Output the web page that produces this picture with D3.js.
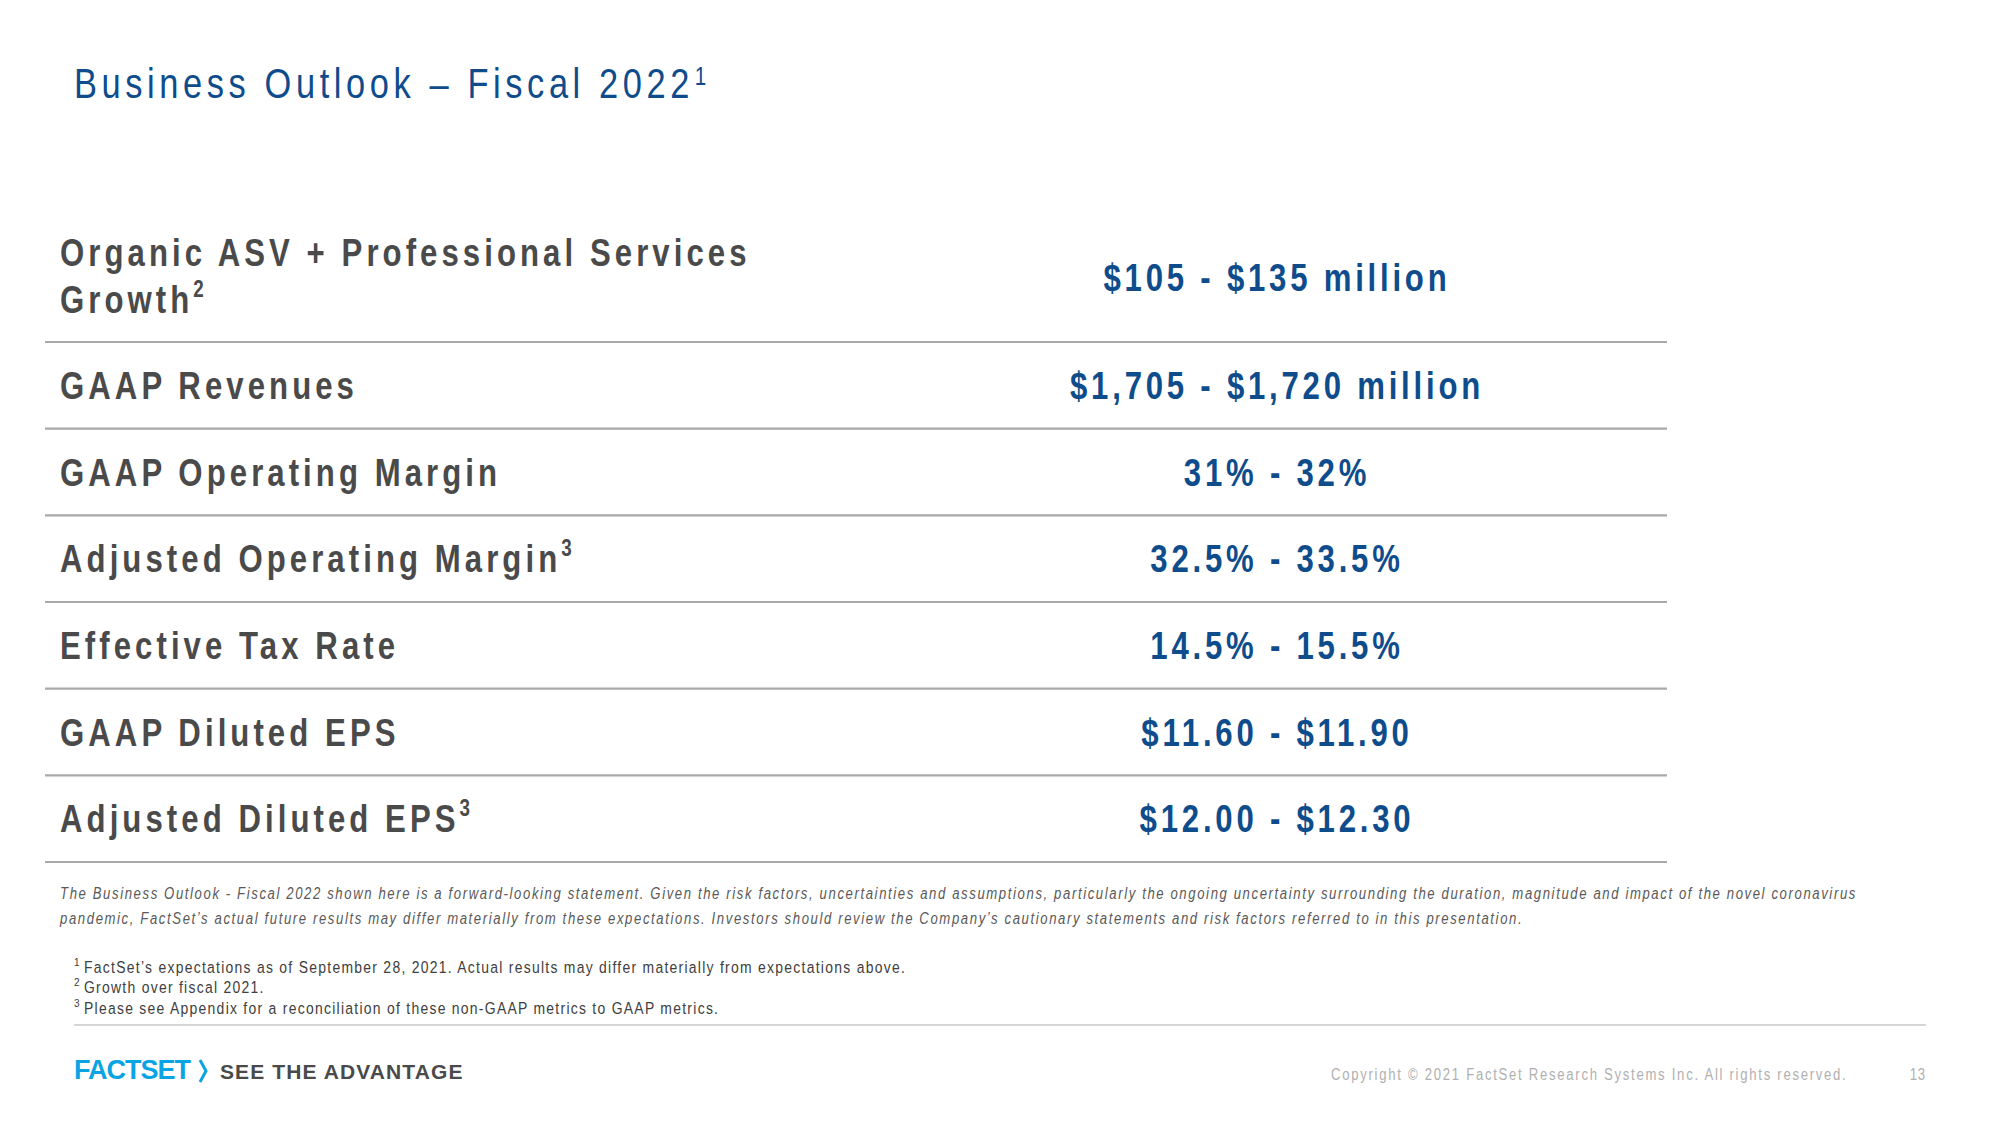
<!DOCTYPE html>
<html>
<head>
<meta charset="utf-8">
<script src="https://cdn.jsdelivr.net/npm/d3@7"></script>
<style>
html,body{margin:0;padding:0;background:#fff;}
svg{display:block;}
</style>
</head>
<body>
<script>
// ---- Data ----
const titleText = "Business Outlook \u2013 Fiscal 2022";
const titleSup = "1";
const metricLabels = [
  ["Organic ASV + Professional Services", "Growth"],
  ["GAAP Revenues"],
  ["GAAP Operating Margin"],
  ["Adjusted Operating Margin"],
  ["Effective Tax Rate"],
  ["GAAP Diluted EPS"],
  ["Adjusted Diluted EPS"]
];
const metricSups = ["2", "", "", "3", "", "", "3"];
const outlookValues = [
  "$105 - $135 million",
  "$1,705 - $1,720 million",
  "31% - 32%",
  "32.5% - 33.5%",
  "14.5% - 15.5%",
  "$11.60 - $11.90",
  "$12.00 - $12.30"
];
const disclaimerLines = [
  "The Business Outlook - Fiscal 2022 shown here is a forward-looking statement. Given the risk factors, uncertainties and assumptions, particularly the ongoing uncertainty surrounding the duration, magnitude and impact of the novel coronavirus",
  "pandemic, FactSet\u2019s actual future results may differ materially from these expectations. Investors should review the Company\u2019s cautionary statements and risk factors referred to in this presentation."
];
const footnoteMarks = ["1", "2", "3"];
const footnoteTexts = [
  "FactSet\u2019s expectations as of September 28, 2021. Actual results may differ materially from expectations above.",
  "Growth over fiscal 2021.",
  "Please see Appendix for a reconciliation of these non-GAAP metrics to GAAP metrics."
];
const brandName = "FACTSET";
const tagline = "SEE THE ADVANTAGE";
const copyrightText = "Copyright \u00A9 2021 FactSet Research Systems Inc. All rights reserved.";
const pageNumber = "13";

// ---- Layout ----
const W = 2000, H = 1125;
const SANS = "'Liberation Sans',Arial,sans-serif";
const BLUE = "#0f4c8c", GRAY = "#4a4a4a", RULE = "#a9a9a9";
const NX = 0.82; // horizontal condensing to emulate a narrow face
const narrow = x => `translate(${x},0) scale(${NX},1)`;

const svg = d3.select("body").append("svg").attr("width", W).attr("height", H);
svg.append("rect").attr("width", W).attr("height", H).attr("fill", "#fff");

// Title
const title = svg.append("text")
  .attr("transform", narrow(74)).attr("x", 0).attr("y", 98)
  .attr("font-family", SANS).attr("font-size", 42)
  .attr("letter-spacing", 5.6).attr("fill", BLUE);
title.append("tspan").text(titleText);
title.append("tspan").attr("dy", -13).attr("font-size", 25).attr("dx", 1).text(titleSup);

// Table scales: row-separator lines
const idx = d3.range(metricLabels.length);
const yLine = d3.scaleLinear().domain([0, metricLabels.length - 1]).range([342, 862]);
const step = yLine(1) - yLine(0);
const rowCenter = i => i === 0 ? yLine(0) - step * 0.75 : yLine(i) - step / 2;
const xCol = d3.scalePoint().domain(["label", "value"]).range([60, 1277]);
const xRule = d3.scaleLinear().domain([0, 1]).range([45, 1667]);

svg.append("g").selectAll("line").data(idx).join("line")
  .attr("x1", xRule(0)).attr("x2", xRule(1))
  .attr("y1", d => yLine(d)).attr("y2", d => yLine(d))
  .attr("stroke", RULE).attr("stroke-width", 2.2);

const FS = 38;
const capOff = FS * 0.358;
// Labels
const labels = svg.append("g").selectAll("text").data(idx).join("text")
  .attr("transform", narrow(xCol("label")))
  .attr("font-family", SANS).attr("font-weight", "bold")
  .attr("font-size", FS).attr("letter-spacing", 4.95).attr("fill", GRAY);
labels.each(function(i) {
  const t = d3.select(this);
  const lines = metricLabels[i];
  const lh = 47;
  const y0 = rowCenter(i) + capOff - (lines.length - 1) * lh / 2 - (lines.length > 1 ? 1 : 0);
  lines.forEach((ln, k) => {
    t.append("tspan").attr("x", 0).attr("y", y0 + k * lh).text(ln);
  });
  if (metricSups[i]) {
    t.append("tspan").attr("dy", -16).attr("dx", 0).attr("font-size", 23).attr("letter-spacing", 2).text(metricSups[i]);
  }
});

// Values
svg.append("g").selectAll("text").data(idx).join("text")
  .attr("transform", narrow(xCol("value")))
  .attr("x", 0)
  .attr("y", i => rowCenter(i) + capOff)
  .attr("text-anchor", "middle")
  .attr("font-family", SANS).attr("font-weight", "bold")
  .attr("font-size", FS).attr("letter-spacing", 4.6).attr("fill", BLUE)
  .text(i => outlookValues[i]);

// Disclaimer
svg.append("g").selectAll("text").data(disclaimerLines).join("text")
  .attr("transform", narrow(60))
  .attr("x", 0).attr("y", (d, i) => 899 + i * 25)
  .attr("font-family", SANS).attr("font-style", "italic")
  .attr("font-size", 16).attr("letter-spacing", 1.97).attr("fill", "#595959")
  .text(d => d);

// Footnotes
const fnG = svg.append("g");
fnG.selectAll("text.mark").data(footnoteMarks).join("text").attr("class", "mark")
  .attr("x", 74).attr("y", (d, i) => 966 + i * 20.4)
  .attr("font-family", SANS).attr("font-size", 10).attr("fill", "#404040")
  .text(d => d);
fnG.selectAll("text.fn").data(footnoteTexts).join("text").attr("class", "fn")
  .attr("transform", narrow(84))
  .attr("x", 0).attr("y", (d, i) => 973 + i * 20.4)
  .attr("font-family", SANS).attr("font-size", 17)
  .attr("letter-spacing", 1.55).attr("fill", "#404040")
  .text(d => d);

// Footer rule
svg.append("line").attr("x1", 74).attr("x2", 1926).attr("y1", 1025).attr("y2", 1025)
  .attr("stroke", "#c8c8c8").attr("stroke-width", 1.5);

// Brand
svg.append("text").attr("x", 74).attr("y", 1079)
  .attr("font-family", SANS).attr("font-weight", "bold").attr("font-size", 27)
  .attr("letter-spacing", -1).attr("fill", "#0aa4e4").text(brandName);
svg.append("path").attr("d", d3.line()([[200, 1060], [206, 1071], [200, 1082]]))
  .attr("fill", "none").attr("stroke", "#0aa4e4").attr("stroke-width", 3);
svg.append("text").attr("x", 220).attr("y", 1079)
  .attr("font-family", SANS).attr("font-weight", "bold").attr("font-size", 21)
  .attr("letter-spacing", 1.1).attr("fill", GRAY).text(tagline);

// Copyright and page number
svg.append("text").attr("transform", narrow(1331)).attr("x", 0).attr("y", 1080)
  .attr("font-family", SANS).attr("font-size", 16).attr("letter-spacing", 2.1)
  .attr("fill", "#b0b0b0").text(copyrightText);
svg.append("text").attr("transform", narrow(1926)).attr("x", 0).attr("y", 1080).attr("text-anchor", "end")
  .attr("font-family", SANS).attr("font-size", 16).attr("letter-spacing", 1)
  .attr("fill", "#b0b0b0").text(pageNumber);
</script>
</body>
</html>
